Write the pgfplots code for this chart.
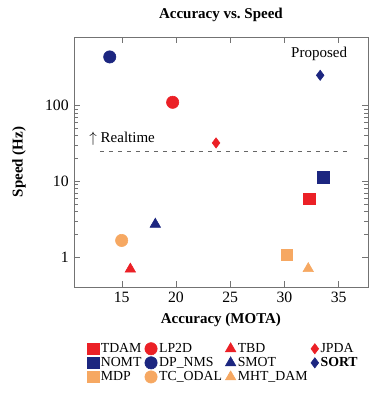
\documentclass[border=0pt]{standalone}
\usepackage{pgfplots}
\pgfplotsset{compat=1.18}
\usepackage{fontspec}
\setmainfont{Liberation Serif}
\definecolor{cred}{RGB}{235,32,38}
\definecolor{cnavy}{RGB}{28,38,128}
\definecolor{corange}{RGB}{246,168,98}
\begin{document}
\begin{tikzpicture}
\begin{axis}[
  name=ax,
  scale only axis,
  width=196pt, height=166.7pt,
  xmin=10.6, xmax=37.7,
  ymode=log, ymin=0.4, ymax=800,
  xtick={15,20,25,30,35},
  ytick={1,10,100}, yticklabels={1,10,100},
  /pgf/number format/assume math mode=true,
  tick label style={font=\fontsize{10.5}{12}\selectfont},
  axis line style={black!55},
  tick style={black!55},
  title={\bfseries Accuracy vs.\ Speed},
  title style={yshift=1pt},
  xlabel={\bfseries Accuracy (MOTA)},
  ylabel={\bfseries Speed (Hz)},
  ylabel style={yshift=6pt},
  legend columns=4,
  legend style={draw=none, fill=none, at={(0.045,-0.215)}, anchor=north west,
    font=\fontsize{9.2}{11}\selectfont, inner sep=0pt,
    nodes={inner sep=1.3pt},
    /tikz/every even column/.append style={column sep=1pt}, row sep=-0.8pt},
  legend cell align=left,
  legend image code/.code={\draw[mark repeat=1,mark phase=1,#1] plot coordinates {(0.14cm,0cm)};},
]
\addplot[only marks, mark=square*, mark size=3.8pt, color=cred] coordinates {(32.3,5.8)};
\addlegendentry{TDAM}
\addplot[only marks, mark=*, mark size=4.1pt, color=cred] coordinates {(19.7,110)};
\addlegendentry{LP2D}
\addplot[only marks, mark=triangle*, mark size=4pt, color=cred] coordinates {(15.8,0.69)};
\addlegendentry{TBD}
\addplot[only marks, mark=diamond*, mark size=3.4pt, color=cred] coordinates {(23.7,32)};
\addlegendentry{JPDA}
\addplot[only marks, mark=square*, mark size=3.8pt, color=cnavy] coordinates {(33.6,11.3)};
\addlegendentry{NOMT}
\addplot[only marks, mark=*, mark size=4.1pt, color=cnavy] coordinates {(13.9,437)};
\addlegendentry{DP\_NMS}
\addplot[only marks, mark=triangle*, mark size=4pt, color=cnavy] coordinates {(18.1,2.7)};
\addlegendentry{SMOT}
\addplot[only marks, mark=diamond*, mark size=3.4pt, color=cnavy] coordinates {(33.3,250)};
\addlegendentry{\bfseries SORT}
\addplot[only marks, mark=square*, mark size=3.8pt, color=corange] coordinates {(30.2,1.07)};
\addlegendentry{MDP}
\addplot[only marks, mark=*, mark size=4.1pt, color=corange] coordinates {(15.0,1.65)};
\addlegendentry{TC\_ODAL}
\addplot[only marks, mark=triangle*, mark size=4pt, color=corange] coordinates {(32.2,0.7)};
\addlegendentry{MHT\_DAM}
\addplot[dashed, black!60, semithick, forget plot] coordinates {(13,25) (36,25)};
\node[anchor=south, font=\fontsize{10}{12}\selectfont] at (axis cs:33.2,330) {Proposed};
\node[anchor=west, font=\fontsize{10}{12}\selectfont, inner sep=0pt] at (axis cs:12.0,36) {$\uparrow$ Realtime};
\end{axis}
\pgfresetboundingbox
\path ([shift={(-49.3pt,-71.3pt)}]ax.south west) rectangle ([shift={(1.3pt,24.7pt)}]ax.north east);
\end{tikzpicture}
\end{document}
